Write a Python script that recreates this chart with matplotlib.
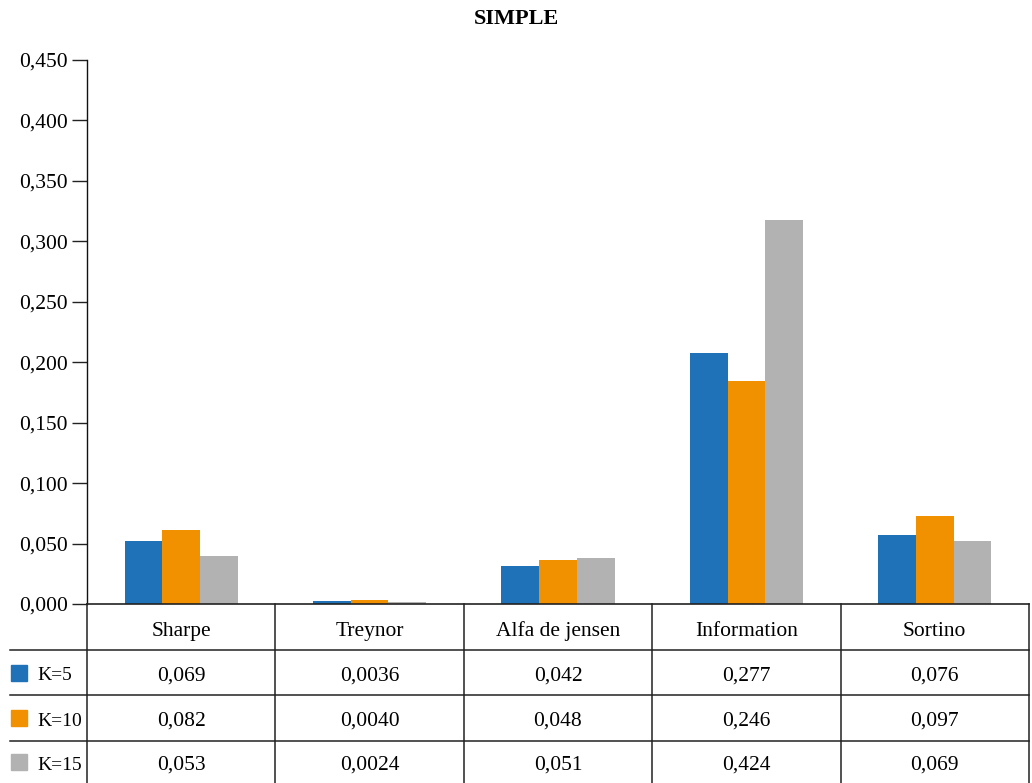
import matplotlib
matplotlib.use("Agg")
import matplotlib.pyplot as plt
from matplotlib.patches import Rectangle
import numpy as np

plt.rcParams['font.family'] = 'serif'
plt.rcParams['font.serif'] = ['Liberation Serif', 'Times New Roman', 'DejaVu Serif']

categories = ["Sharpe", "Treynor", "Alfa de jensen", "Information", "Sortino"]
series_names = ["K=5", "K=10", "K=15"]
k5 = [0.069, 0.0036, 0.042, 0.277, 0.076]
k10 = [0.082, 0.0040, 0.048, 0.246, 0.097]
k15 = [0.053, 0.0024, 0.051, 0.424, 0.069]
table_text = [
    ["0,069", "0,0036", "0,042", "0,277", "0,076"],
    ["0,082", "0,0040", "0,048", "0,246", "0,097"],
    ["0,053", "0,0024", "0,051", "0,424", "0,069"],
]
tick_labels = ["0,000", "0,050", "0,100", "0,150", "0,200", "0,250",
               "0,300", "0,350", "0,400", "0,450"]
colors = ["#1f71b8", "#f29100", "#b2b2b2"]
# The original axis labels are scaled: a labelled 0,050 step covers 0.05/0.75 data units
axis_scale = 0.75

W, H = 1032, 783
fig = plt.figure(figsize=(W / 100, H / 100), dpi=100)

def fx(px):
    return px / W

def fy(py):
    return 1 - py / H

left_px, right_px, top_px, bot_px = 87, 1029, 60, 604
ax = fig.add_axes([fx(left_px), fy(bot_px), fx(right_px - left_px), (bot_px - top_px) / H])

series = [k5, k10, k15]
x = np.arange(len(categories))
bw = 0.2
for i, (vals, c) in enumerate(zip(series, colors)):
    ax.bar(x + (i - 1) * bw, vals, width=bw, color=c, zorder=2)

ymax = 0.45 / axis_scale
ax.set_xlim(-0.5, len(categories) - 0.5)
ax.set_ylim(0, ymax)
ticks = [i * 0.05 / axis_scale for i in range(len(tick_labels))]
ax.set_yticks(ticks)
ax.set_yticklabels(tick_labels, fontsize=15.5)
ax.tick_params(axis='y', length=10.5, width=1, color='#222222', pad=3.5)
ax.set_xticks([])
for s in ["top", "right", "bottom"]:
    ax.spines[s].set_visible(False)
ax.spines["left"].set_color('#111111')
ax.spines["left"].set_linewidth(1)

fig.text(0.5, fy(17), "SIMPLE", ha='center', va='center_baseline', fontsize=16, fontweight='bold')

# table in pixel coordinates
tb = fig.add_axes([0, 0, 1, 1])
tb.set_xlim(0, W)
tb.set_ylim(H, 0)
tb.axis('off')
tb.patch.set_alpha(0)

col_edges = np.linspace(left_px, right_px, len(categories) + 1)
row_edges = [604, 650, 695, 741, 783]
lc = '#222222'
tb.plot([left_px, right_px], [604, 604], color=lc, lw=1.2)
for ry in row_edges[1:4]:
    tb.plot([10, right_px], [ry, ry], color=lc, lw=1.1)
for cx in col_edges:
    tb.plot([cx, cx], [604, 783], color=lc, lw=1.1)

for j, cat in enumerate(categories):
    cxm = (col_edges[j] + col_edges[j + 1]) / 2
    tb.text(cxm, (row_edges[0] + row_edges[1]) / 2 + 2, cat, ha='center', va='center_baseline', fontsize=15.5)
    for i in range(len(series_names)):
        tb.text(cxm, (row_edges[i + 1] + row_edges[i + 2]) / 2 + 1, table_text[i][j],
                ha='center', va='center_baseline', fontsize=15.5)

for i, name in enumerate(series_names):
    cy = (row_edges[i + 1] + row_edges[i + 2]) / 2
    tb.add_patch(Rectangle((11, cy - 8), 16, 16, color=colors[i]))
    tb.text(37, cy + 1, name, ha='left', va='center_baseline', fontsize=14)

fig.savefig("out.png", dpi=100)
